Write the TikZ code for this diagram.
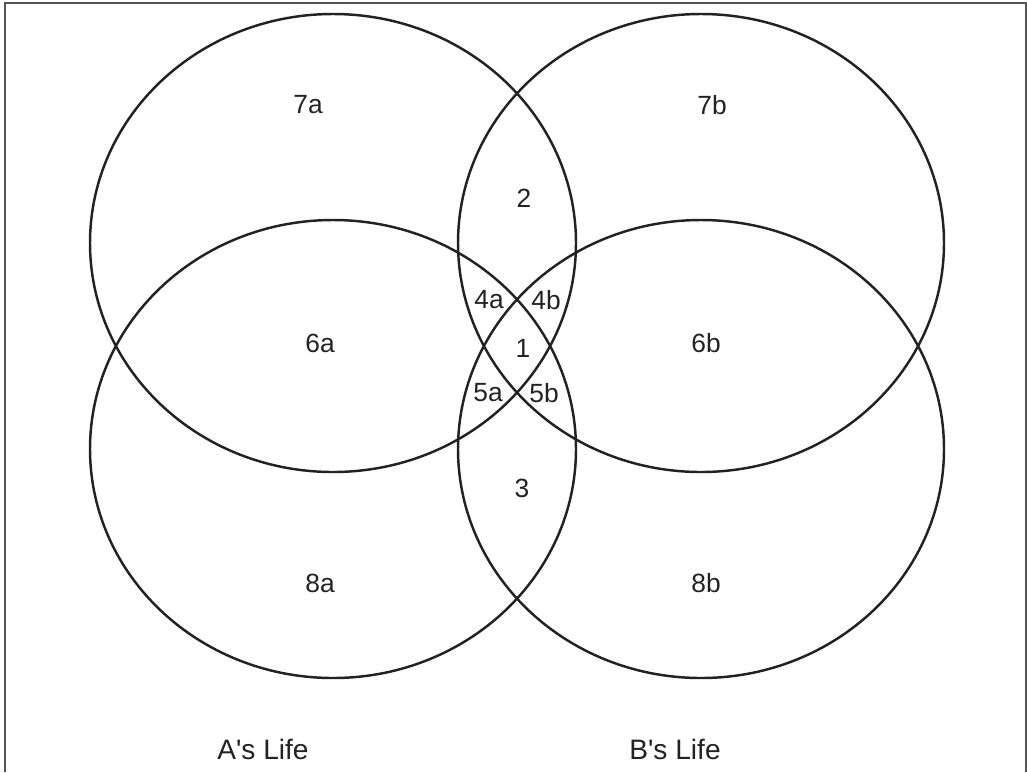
\documentclass[tikz,border=0pt]{standalone}
\usepackage{fontspec}
\setmainfont{Liberation Sans}
\definecolor{ink}{HTML}{222222}
\definecolor{frame}{HTML}{555555}
\usetikzlibrary{positioning}
\tikzset{
  lifering/.style={ink, line width=1.4pt},
  region/.style={font=\fontsize{15}{17}\selectfont, text=ink, inner sep=1pt},
  lifename/.style={font=\fontsize{16}{18}\selectfont, text=ink}
}

\begin{document}
\begin{tikzpicture}[x=0.02cm, y=-0.02cm]
\useasboundingbox (0, 0) rectangle (1027, 772);
% Outer frame (bottom edge cut off)
\draw[frame, line width=0.8pt] (5, 772) -- (5, 3) -- (1026, 3) -- (1026, 772);

% The four lives
\draw[lifering] (333, 243) ellipse [x radius=243, y radius=229];
\draw[lifering] (701, 243) ellipse [x radius=243, y radius=229];
\draw[lifering] (333, 449) ellipse [x radius=243, y radius=229];
\draw[lifering] (701, 449) ellipse [x radius=243, y radius=229];

% Region labels
\node[region] (r7a) at (308, 105) {7a};
\node[region] (r7b) at (712, 105) {7b};
\node[region] (r2)  at (524, 198) {2};
\node[region] (r4a) at (489, 300) {4a};
\node[region] (r4b) at (546, 300) {4b};
\node[region] (r1)  at (523, 348) {1};
\node[region] (r6a) at (320, 343) {6a};
\node[region] (r6b) at (706, 343) {6b};
\node[region] (r5a) at (488, 393) {5a};
\node[region] (r5b) at (544, 393) {5b};
\node[region] (r3)  at (522, 488) {3};
\node[region] (r8a) at (320, 583) {8a};
\node[region] (r8b) at (706, 583) {8b};

% Whose life
\node[lifename] (alife) at (263, 749) {A\textquotesingle s Life};
\node[lifename] (blife) at (675, 749) {B\textquotesingle s Life};
\end{tikzpicture}
\end{document}
